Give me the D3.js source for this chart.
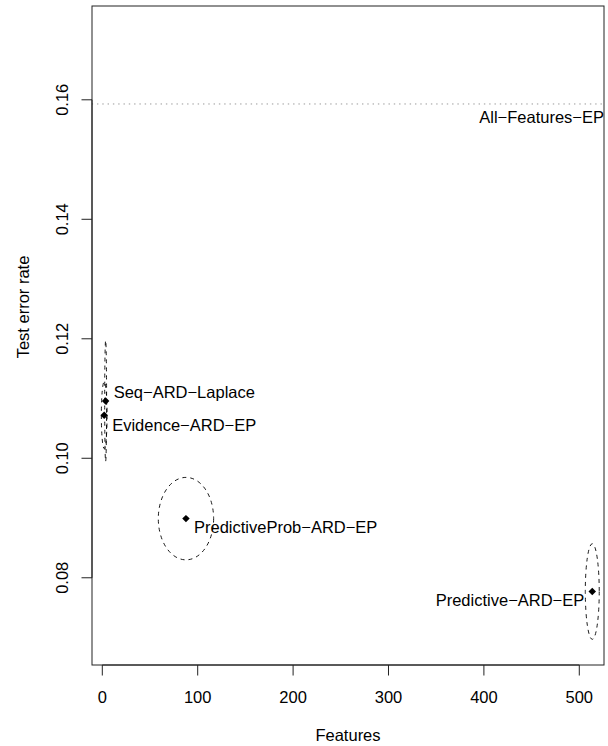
<!DOCTYPE html>
<html>
<head>
<meta charset="utf-8">
<script src="https://cdn.jsdelivr.net/npm/d3@7"></script>
<style>
  body { margin: 0; background: #fff; }
  svg { font-family: "Liberation Sans", Arial, Helvetica, sans-serif; }
  .lbl { font-size: 16.5px; fill: #000; }
</style>
</head>
<body>
<svg id="chart" width="608" height="746"></svg>
<script>
// methods, number of features kept and test error
let methods = ["Seq\u2212ARD\u2212Laplace", "Evidence\u2212ARD\u2212EP", "PredictiveProb\u2212ARD\u2212EP", "Predictive\u2212ARD\u2212EP"]
let features = [3.5, 2, 87.7, 513.6]
let errors = [0.1096, 0.1072, 0.0899, 0.0777]
// spread of each method (ellipse half widths)
let feat_spread = [1, 3, 29, 7.3]
let err_spread = [0.0101, 0.0056, 0.0069, 0.0080]
// where the name is written (error value) and on which side
let label_err = [0.1110, 0.1056, 0.0884, 0.0762]
let label_side = ["right", "right", "right", "left"]

let all_name = "All\u2212Features\u2212EP"
let all_error = 0.1593

let x_ticks = [0, 100, 200, 300, 400, 500]
let y_ticks = [0.08, 0.10, 0.12, 0.14, 0.16]

let width = 608,
    height = 746,
    margins = {left: 92, right: 4, top: 6, bottom: 81}

let svg = d3.select("#chart")

let scales = {
  x: d3.scaleLinear().domain([-10.8, 525.9]).range([margins.left, width - margins.right]),
  y: d3.scaleLinear().domain([0.0654, 0.1757]).range([height - margins.bottom, margins.top])
}

let data = methods.map((m, i) => ({
  name: m,
  features: features[i],
  error: errors[i],
  fs: feat_spread[i],
  es: err_spread[i],
  ly: label_err[i],
  side: label_side[i]
}))

// reference line for all features
svg.append("line")
  .attr("x1", scales.x.range()[0])
  .attr("x2", scales.x.range()[1])
  .attr("y1", scales.y(all_error))
  .attr("y2", scales.y(all_error))
  .attr("stroke", "#999")
  .attr("stroke-width", 1)
  .attr("stroke-dasharray", "1.4,3.9")
  .attr("stroke-dashoffset", 0.3)

svg.append("text")
  .attr("class", "lbl")
  .attr("x", scales.x.range()[1])
  .attr("y", scales.y(all_error) + 13)
  .attr("dy", "0.35em")
  .attr("text-anchor", "end")
  .text(all_name)

// ellipses
svg.append("g").selectAll("ellipse")
  .data(data).enter()
  .append("ellipse")
  .attr("cx", d => scales.x(d.features))
  .attr("cy", d => scales.y(d.error))
  .attr("rx", d => scales.x(d.features + d.fs) - scales.x(d.features))
  .attr("ry", d => scales.y(d.error) - scales.y(d.error + d.es))
  .attr("fill", "none")
  .attr("stroke", "#000")
  .attr("stroke-width", 0.9)
  .attr("stroke-dasharray", "4,4")

// points
let diamond = d3.symbol().type(d3.symbolSquare).size(28)
svg.append("g").selectAll("path")
  .data(data).enter()
  .append("path")
  .attr("d", diamond)
  .attr("transform", d => `translate(${scales.x(d.features)},${scales.y(d.error)}) rotate(45)`)
  .attr("fill", "#000")

// names
svg.append("g").selectAll("text")
  .data(data).enter()
  .append("text")
  .attr("class", "lbl")
  .attr("x", d => scales.x(d.features) + (d.side == "right" ? 8 : -8))
  .attr("y", d => scales.y(d.ly))
  .attr("dy", "0.35em")
  .attr("text-anchor", d => d.side == "right" ? "start" : "end")
  .text(d => d.name)

// box
svg.append("rect")
  .attr("x", margins.left)
  .attr("y", margins.top)
  .attr("width", width - margins.left - margins.right)
  .attr("height", height - margins.top - margins.bottom)
  .attr("fill", "none")
  .attr("stroke", "#222")
  .attr("stroke-width", 1)

// R style axes: line spans the ticks only
let x_axis = svg.append("g")
  .attr("transform", `translate(0,${height - margins.bottom})`)
x_axis.append("line")
  .attr("x1", scales.x(x_ticks[0])).attr("x2", scales.x(x_ticks[x_ticks.length - 1]))
  .attr("stroke", "#222")
x_axis.selectAll(".tick").data(x_ticks).enter()
  .append("line")
  .attr("x1", d => scales.x(d)).attr("x2", d => scales.x(d))
  .attr("y1", 0).attr("y2", 10.5)
  .attr("stroke", "#222")
x_axis.selectAll("text").data(x_ticks).enter()
  .append("text")
  .attr("class", "lbl")
  .attr("x", d => scales.x(d))
  .attr("y", 32)
  .attr("dy", "0.35em")
  .attr("text-anchor", "middle")
  .text(d => d)

let y_axis = svg.append("g")
  .attr("transform", `translate(${margins.left},0)`)
y_axis.append("line")
  .attr("y1", scales.y(y_ticks[0])).attr("y2", scales.y(y_ticks[y_ticks.length - 1]))
  .attr("stroke", "#222")
y_axis.selectAll(".tick").data(y_ticks).enter()
  .append("line")
  .attr("y1", d => scales.y(d)).attr("y2", d => scales.y(d))
  .attr("x1", 0).attr("x2", -10.5)
  .attr("stroke", "#222")
y_axis.selectAll("text").data(y_ticks).enter()
  .append("text")
  .attr("class", "lbl")
  .attr("transform", d => `translate(-30,${scales.y(d)}) rotate(-90)`)
  .attr("dy", "0.35em")
  .attr("text-anchor", "middle")
  .text(d => d3.format(".2f")(d))

// titles
svg.append("text")
  .attr("class", "lbl")
  .attr("x", (margins.left + width - margins.right) / 2)
  .attr("y", 735)
  .attr("dy", "0.35em")
  .attr("text-anchor", "middle")
  .text("Features")

svg.append("text")
  .attr("class", "lbl")
  .attr("transform", `translate(23,307) rotate(-90)`)
  .attr("dy", "0.35em")
  .attr("text-anchor", "middle")
  .text("Test error rate")
</script>
</body>
</html>
